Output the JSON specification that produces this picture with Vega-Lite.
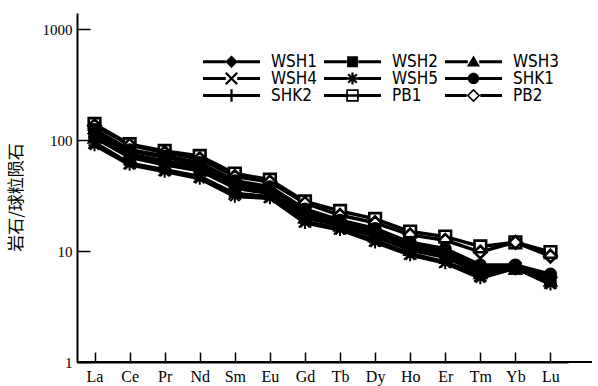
{
  "$schema": "https://vega.github.io/schema/vega-lite/v6.json",
  "autosize": "none",
  "width": 515,
  "height": 349,
  "padding": {"left": 77, "top": 13, "right": 6, "bottom": 24},
  "background": "white",
  "config": {"view": {"stroke": null}},
  "datasets": {
    "ree": [
      {"series":"WSH1","el":"La","v":115},{"series":"WSH1","el":"Ce","v":75},{"series":"WSH1","el":"Pr","v":65},{"series":"WSH1","el":"Nd","v":58},{"series":"WSH1","el":"Sm","v":40},{"series":"WSH1","el":"Eu","v":35},{"series":"WSH1","el":"Gd","v":22},{"series":"WSH1","el":"Tb","v":18},{"series":"WSH1","el":"Dy","v":15},{"series":"WSH1","el":"Ho","v":11},{"series":"WSH1","el":"Er","v":9.5},{"series":"WSH1","el":"Tm","v":6.8},{"series":"WSH1","el":"Yb","v":7},{"series":"WSH1","el":"Lu","v":5.8},
      {"series":"WSH2","el":"La","v":110},{"series":"WSH2","el":"Ce","v":72},{"series":"WSH2","el":"Pr","v":62},{"series":"WSH2","el":"Nd","v":55},{"series":"WSH2","el":"Sm","v":38},{"series":"WSH2","el":"Eu","v":34},{"series":"WSH2","el":"Gd","v":21},{"series":"WSH2","el":"Tb","v":17},{"series":"WSH2","el":"Dy","v":14},{"series":"WSH2","el":"Ho","v":10.5},{"series":"WSH2","el":"Er","v":9},{"series":"WSH2","el":"Tm","v":6.5},{"series":"WSH2","el":"Yb","v":7},{"series":"WSH2","el":"Lu","v":5.5},
      {"series":"WSH3","el":"La","v":105},{"series":"WSH3","el":"Ce","v":70},{"series":"WSH3","el":"Pr","v":60},{"series":"WSH3","el":"Nd","v":53},{"series":"WSH3","el":"Sm","v":37},{"series":"WSH3","el":"Eu","v":33},{"series":"WSH3","el":"Gd","v":20},{"series":"WSH3","el":"Tb","v":17},{"series":"WSH3","el":"Dy","v":13.5},{"series":"WSH3","el":"Ho","v":10.2},{"series":"WSH3","el":"Er","v":8.8},{"series":"WSH3","el":"Tm","v":6.3},{"series":"WSH3","el":"Yb","v":6.9},{"series":"WSH3","el":"Lu","v":5.4},
      {"series":"WSH4","el":"La","v":95},{"series":"WSH4","el":"Ce","v":62},{"series":"WSH4","el":"Pr","v":54},{"series":"WSH4","el":"Nd","v":47},{"series":"WSH4","el":"Sm","v":33},{"series":"WSH4","el":"Eu","v":31},{"series":"WSH4","el":"Gd","v":18.5},{"series":"WSH4","el":"Tb","v":16},{"series":"WSH4","el":"Dy","v":12.5},{"series":"WSH4","el":"Ho","v":9.5},{"series":"WSH4","el":"Er","v":8},{"series":"WSH4","el":"Tm","v":6},{"series":"WSH4","el":"Yb","v":7},{"series":"WSH4","el":"Lu","v":5.2},
      {"series":"WSH5","el":"La","v":90},{"series":"WSH5","el":"Ce","v":60},{"series":"WSH5","el":"Pr","v":52},{"series":"WSH5","el":"Nd","v":45},{"series":"WSH5","el":"Sm","v":31},{"series":"WSH5","el":"Eu","v":30},{"series":"WSH5","el":"Gd","v":18},{"series":"WSH5","el":"Tb","v":15.5},{"series":"WSH5","el":"Dy","v":12},{"series":"WSH5","el":"Ho","v":9.2},{"series":"WSH5","el":"Er","v":7.8},{"series":"WSH5","el":"Tm","v":5.7},{"series":"WSH5","el":"Yb","v":7},{"series":"WSH5","el":"Lu","v":5},
      {"series":"SHK1","el":"La","v":125},{"series":"SHK1","el":"Ce","v":82},{"series":"SHK1","el":"Pr","v":72},{"series":"SHK1","el":"Nd","v":63},{"series":"SHK1","el":"Sm","v":43},{"series":"SHK1","el":"Eu","v":38},{"series":"SHK1","el":"Gd","v":24},{"series":"SHK1","el":"Tb","v":19},{"series":"SHK1","el":"Dy","v":16},{"series":"SHK1","el":"Ho","v":12},{"series":"SHK1","el":"Er","v":10.5},{"series":"SHK1","el":"Tm","v":7.5},{"series":"SHK1","el":"Yb","v":7.5},{"series":"SHK1","el":"Lu","v":6.2},
      {"series":"SHK2","el":"La","v":120},{"series":"SHK2","el":"Ce","v":80},{"series":"SHK2","el":"Pr","v":70},{"series":"SHK2","el":"Nd","v":61},{"series":"SHK2","el":"Sm","v":42},{"series":"SHK2","el":"Eu","v":37},{"series":"SHK2","el":"Gd","v":23},{"series":"SHK2","el":"Tb","v":18.5},{"series":"SHK2","el":"Dy","v":15.5},{"series":"SHK2","el":"Ho","v":11.5},{"series":"SHK2","el":"Er","v":10},{"series":"SHK2","el":"Tm","v":7},{"series":"SHK2","el":"Yb","v":7.2},{"series":"SHK2","el":"Lu","v":6},
      {"series":"PB1","el":"La","v":140},{"series":"PB1","el":"Ce","v":92},{"series":"PB1","el":"Pr","v":80},{"series":"PB1","el":"Nd","v":72},{"series":"PB1","el":"Sm","v":50},{"series":"PB1","el":"Eu","v":44},{"series":"PB1","el":"Gd","v":28},{"series":"PB1","el":"Tb","v":23},{"series":"PB1","el":"Dy","v":19.5},{"series":"PB1","el":"Ho","v":15},{"series":"PB1","el":"Er","v":13.5},{"series":"PB1","el":"Tm","v":11},{"series":"PB1","el":"Yb","v":12},{"series":"PB1","el":"Lu","v":9.8},
      {"series":"PB2","el":"La","v":135},{"series":"PB2","el":"Ce","v":90},{"series":"PB2","el":"Pr","v":77},{"series":"PB2","el":"Nd","v":68},{"series":"PB2","el":"Sm","v":47},{"series":"PB2","el":"Eu","v":42},{"series":"PB2","el":"Gd","v":27},{"series":"PB2","el":"Tb","v":21},{"series":"PB2","el":"Dy","v":18},{"series":"PB2","el":"Ho","v":14},{"series":"PB2","el":"Er","v":12.5},{"series":"PB2","el":"Tm","v":9.8},{"series":"PB2","el":"Yb","v":12},{"series":"PB2","el":"Lu","v":9}
    ]
  },
  "data": {"name": "ree"},
  "encoding": {
    "x": {
      "field": "el", "type": "nominal",
      "sort": ["La","Ce","Pr","Nd","Sm","Eu","Gd","Tb","Dy","Ho","Er","Tm","Yb","Lu"],
      "scale": {"type": "point", "range": [0, 491]},
      "axis": {"title": null, "labelAngle": 0, "tickSize": -10, "tickColor": "black", "tickWidth": 1.5, "domainColor": "black", "domainWidth": 2, "labelFont": "Liberation Serif", "labelFontSize": 16, "labelColor": "black", "labelPadding": 16}
    },
    "y": {
      "field": "v", "type": "quantitative",
      "scale": {"type": "log", "domain": [1, 1400], "nice": false},
      "axis": {"title": "岩石/球粒陨石", "titleFont": "Noto Sans CJK SC", "titleFontSize": 17, "titleFontWeight": "normal", "titleColor": "black", "titleX": -52, "titleY": 184, "values": [1, 10, 100, 1000], "format": "d", "grid": false, "tickSize": -13, "tickColor": "black", "tickWidth": 1.5, "domainColor": "black", "domainWidth": 2, "labelFont": "Liberation Serif", "labelFontSize": 15, "labelColor": "black", "labelPadding": 18}
    }
  },
  "resolve": {"scale": {"shape": "independent"}, "legend": {"shape": "independent"}},
  "layer": [
    {
      "mark": {"type": "rule", "color": "black", "strokeWidth": 2},
      "data": {"values": [{"b": 1}]},
      "encoding": {"x": null, "y": {"field": "b", "type": "quantitative"}}
    },
    {
      "mark": {"type": "line", "color": "black", "strokeWidth": 3.5},
      "encoding": {"detail": {"field": "series", "type": "nominal"}}
    },
    {
      "transform": [{"filter": {"field": "series", "equal": "PB1"}}],
      "mark": {"type": "point", "filled": true, "fill": "white", "strokeWidth": 0, "opacity": 1, "shape": "square", "size": 150}
    },
    {
      "transform": [{"filter": {"field": "series", "equal": "PB2"}}],
      "mark": {"type": "point", "filled": true, "fill": "white", "strokeWidth": 0, "opacity": 1, "shape": "diamond", "size": 180}
    },
    {
      "mark": {"type": "point", "filled": true, "fill": "black", "stroke": "black", "strokeWidth": 2, "opacity": 1, "size": 150},
      "encoding": {
        "shape": {
          "field": "series", "type": "nominal",
          "scale": {
            "domain": ["WSH1","WSH2","WSH3","WSH4","WSH5","SHK1","SHK2","PB1","PB2"],
            "range": [
              "M0,-1L1,0L0,1L-1,0Z",
              "M-0.85,-0.85H0.85V0.85H-0.85Z",
              "M0,-1L1,0.8H-1Z",
              "M-1,-1L1,1M-1,1L1,-1",
              "M-1,0H1M0,-1V1M-0.75,-0.75L0.75,0.75M-0.75,0.75L0.75,-0.75",
              "M0.9,0A0.9,0.9,0,1,1,-0.9,0A0.9,0.9,0,1,1,0.9,0Z",
              "M0,-1V1M-1,0H1",
              "M-1,-1H1V1H-1ZM-0.9,-0.9V0.9H0.9V-0.9Z",
              "M0,-1.1L1.1,0L0,1.1L-1.1,0ZM0,-0.95L-0.95,0L0,0.95L0.95,0Z"
            ]
          },
          "legend": null
        }
      }
    },
    {
      "mark": {"type": "point", "filled": true, "fill": "black", "strokeWidth": 0, "opacity": 0, "size": 130},
      "encoding": {
        "shape": {
          "field": "series", "type": "nominal",
          "scale": {
            "domain": ["WSH1","WSH2","WSH3","WSH4","WSH5","SHK1","SHK2","PB1","PB2"],
            "range": [
              "M-5,-0.26H-1V0.26H-5ZM1,-0.26H5V0.26H1ZM0,-1.1L1.1,0L0,1.1L-1.1,0Z",
              "M-5,-0.26H-1V0.26H-5ZM1,-0.26H5V0.26H1ZM-0.95,-0.95H0.95V0.95H-0.95Z",
              "M-5,-0.26H-1V0.26H-5ZM1,-0.26H5V0.26H1ZM0,-1.1L1.15,0.85H-1.15Z",
              "M-5,-0.26H-1V0.26H-5ZM1,-0.26H5V0.26H1ZM-0.86,-1.14L1.14,0.86L0.86,1.14L-1.14,-0.86ZM0.86,-1.14L1.14,-0.86L-0.86,1.14L-1.14,0.86Z",
              "M-5,-0.26H-1V0.26H-5ZM1,-0.26H5V0.26H1ZM-1.05,-0.2H1.05V0.2H-1.05ZM0.2,-1.05V1.05H-0.2V-1.05ZM-0.61,-0.89L0.89,0.61L0.61,0.89L-0.89,-0.61ZM0.61,-0.89L0.89,-0.61L-0.61,0.89L-0.89,0.61Z",
              "M-5,-0.26H-1V0.26H-5ZM1,-0.26H5V0.26H1ZM1,0A1,1,0,1,1,-1,0A1,1,0,1,1,1,0Z",
              "M-5,-0.26H5V0.26H-5ZM0.2,-1.1V1.1H-0.2V-1.1Z",
              "M-5,-0.26H-1.1V0.26H-5ZM1.1,-0.26H5V0.26H1.1ZM-1.1,-1.1H1.1V1.1H-1.1ZM-0.8,-0.8V0.8H0.8V-0.8ZM-0.8,-0.22H0.8V0.22H-0.8Z",
              "M-5,-0.26H-1.2V0.26H-5ZM1.2,-0.26H5V0.26H1.2ZM0,-1.2L1.2,0L0,1.2L-1.2,0ZM0,-0.8L-0.8,0L0,0.8L0.8,0Z"
            ]
          },
          "legend": {
            "title": null, "orient": "none", "legendX": 146, "legendY": 40, "columns": 3, "direction": "horizontal",
            "symbolSize": 130, "symbolStrokeWidth": 0, "symbolFillColor": "black", "symbolOpacity": 1,
            "labelFont": "Liberation Sans Narrow, DejaVu Sans Condensed, Liberation Sans", "labelFontSize": 17, "labelColor": "black", "labelOffset": 31,
            "columnPadding": 5, "rowPadding": -8, "padding": 0
          }
        }
      }
    }
  ]
}
